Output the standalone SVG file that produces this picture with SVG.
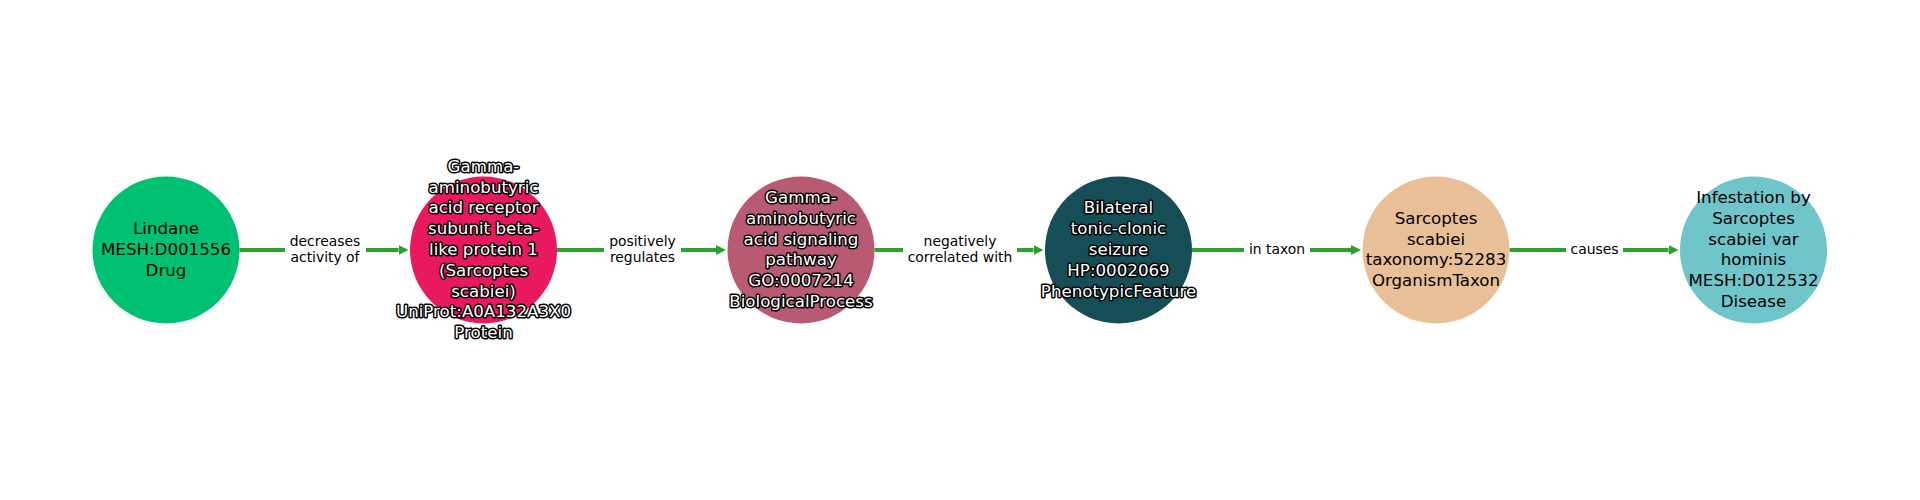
<svg xmlns="http://www.w3.org/2000/svg" width="1920" height="500" viewBox="0 0 1920 500">
<style>
.edge{stroke:#2ca02c;stroke-width:4;fill:none}
.elbl{font-family:"DejaVu Sans",sans-serif;font-size:13.9px;fill:#000;text-anchor:middle;dominant-baseline:central}
.lbl{font-family:"DejaVu Sans",sans-serif;font-size:16.67px;text-anchor:middle;dominant-baseline:central}
.dark{fill:#000}
.halo{fill:#fff;stroke:#000;stroke-width:3;paint-order:stroke;stroke-linejoin:round}
.bg{fill:#fff}
</style>
<defs>
<marker id="ah" viewBox="0 0 10 10" markerWidth="10" markerHeight="10.5" refX="0" refY="5" orient="auto" markerUnits="userSpaceOnUse">
<path d="M0,0 L10,5 L0,10 z" fill="#2ca02c"/>
</marker>
</defs>
<rect width="1920" height="500" fill="#fff"/>
<g id="connectors">
<line class="edge" x1="239.5" y1="250" x2="398.5" y2="250" marker-end="url(#ah)"/>
<rect class="bg" x="285" y="234" width="81" height="32"/>
<text class="elbl" x="325" y="241">decreases</text>
<text class="elbl" x="325" y="257">activity of</text>
<line class="edge" x1="557" y1="250" x2="716" y2="250" marker-end="url(#ah)"/>
<rect class="bg" x="604" y="234" width="77" height="32"/>
<text class="elbl" x="642.5" y="241">positively</text>
<text class="elbl" x="642.5" y="257">regulates</text>
<line class="edge" x1="874.5" y1="250" x2="1033.5" y2="250" marker-end="url(#ah)"/>
<rect class="bg" x="903" y="234" width="114" height="32"/>
<text class="elbl" x="960" y="241">negatively</text>
<text class="elbl" x="960" y="257">correlated with</text>
<line class="edge" x1="1192" y1="250" x2="1351" y2="250" marker-end="url(#ah)"/>
<rect class="bg" x="1244" y="241" width="66" height="18"/>
<text class="elbl" x="1277" y="249">in taxon</text>
<line class="edge" x1="1509.5" y1="250" x2="1668.5" y2="250" marker-end="url(#ah)"/>
<rect class="bg" x="1566" y="241" width="57" height="18"/>
<text class="elbl" x="1594.5" y="249">causes</text>
</g>
<g id="n1">
<circle cx="166" cy="250" r="73.5" fill="#00c171"/>
<text class="lbl dark" x="166"><tspan x="166" y="228.2">Lindane</tspan><tspan x="166" y="249">MESH:D001556</tspan><tspan x="166" y="269.8">Drug</tspan></text>
</g>
<g id="n2">
<circle cx="483.5" cy="250" r="73.5" fill="#e8195f"/>
<text class="lbl halo" x="483.5"><tspan x="483.5" y="165.8">Gamma-</tspan><tspan x="483.5" y="186.6">aminobutyric</tspan><tspan x="483.5" y="207.4">acid receptor</tspan><tspan x="483.5" y="228.2">subunit beta-</tspan><tspan x="483.5" y="249">like protein 1</tspan><tspan x="483.5" y="269.8">(Sarcoptes</tspan><tspan x="483.5" y="290.6">scabiei)</tspan><tspan x="483.5" y="311.4">UniProt:A0A132A3X0</tspan><tspan x="483.5" y="332.2">Protein</tspan></text>
</g>
<g id="n3">
<circle cx="801" cy="250" r="73.5" fill="#b85b72"/>
<text class="lbl halo" x="801"><tspan x="801" y="197">Gamma-</tspan><tspan x="801" y="217.8">aminobutyric</tspan><tspan x="801" y="238.6">acid signaling</tspan><tspan x="801" y="259.4">pathway</tspan><tspan x="801" y="280.2">GO:0007214</tspan><tspan x="801" y="301">BiologicalProcess</tspan></text>
</g>
<g id="n4">
<circle cx="1118.5" cy="250" r="73.5" fill="#154e56"/>
<text class="lbl halo" x="1118.5"><tspan x="1118.5" y="207.4">Bilateral</tspan><tspan x="1118.5" y="228.2">tonic-clonic</tspan><tspan x="1118.5" y="249">seizure</tspan><tspan x="1118.5" y="269.8">HP:0002069</tspan><tspan x="1118.5" y="290.6">PhenotypicFeature</tspan></text>
</g>
<g id="n5">
<circle cx="1436" cy="250" r="73.5" fill="#e8bf96"/>
<text class="lbl dark" x="1436"><tspan x="1436" y="217.8">Sarcoptes</tspan><tspan x="1436" y="238.6">scabiei</tspan><tspan x="1436" y="259.4">taxonomy:52283</tspan><tspan x="1436" y="280.2">OrganismTaxon</tspan></text>
</g>
<g id="n6">
<circle cx="1753.5" cy="250" r="73.5" fill="#70c5ca"/>
<text class="lbl dark" x="1753.5"><tspan x="1753.5" y="197">Infestation by</tspan><tspan x="1753.5" y="217.8">Sarcoptes</tspan><tspan x="1753.5" y="238.6">scabiei var</tspan><tspan x="1753.5" y="259.4">hominis</tspan><tspan x="1753.5" y="280.2">MESH:D012532</tspan><tspan x="1753.5" y="301">Disease</tspan></text>
</g>
</svg>
